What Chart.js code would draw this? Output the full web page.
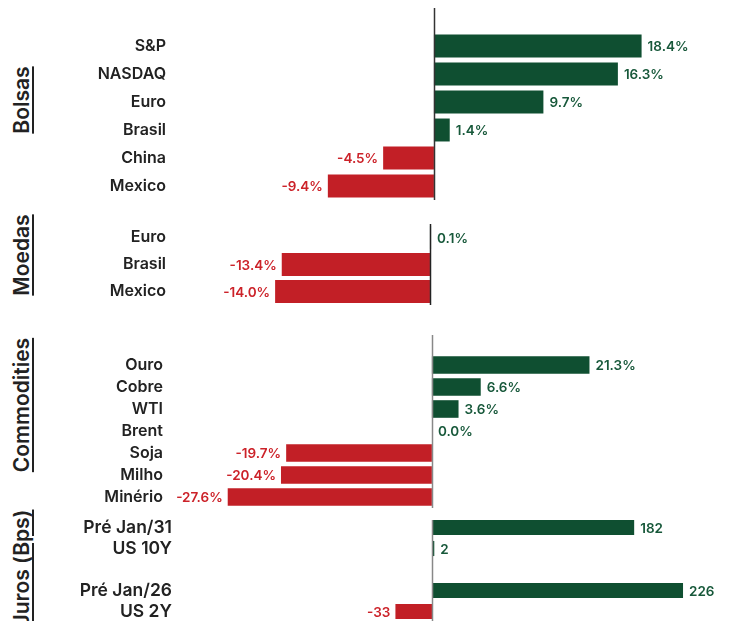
<!DOCTYPE html>
<html>
<head>
<meta charset="utf-8">
<script src="https://cdn.jsdelivr.net/npm/chart.js@4.4.1/dist/chart.umd.min.js"></script>
<style>
  html, body { margin: 0; padding: 0; background: #fff; overflow: hidden; }
  body { width: 733px; height: 621px; position: relative; font-family: 'Inter', sans-serif; }
  canvas { position: absolute; left: 0; }
  .section {
    position: absolute;
    width: 160px;
    height: 24px;
    line-height: 24px;
    text-align: center;
    font-size: 21px;
    font-weight: 600;
    color: #222;
    text-decoration: underline;
    text-decoration-thickness: 1.5px;
    text-underline-offset: 3px;
    transform: rotate(-90deg);
    white-space: nowrap;
  }
</style>
</head>
<body>

<div class="section" style="left:-58px; top:88px;">Bolsas</div>
<div class="section" style="left:-58px; top:243px;">Moedas</div>
<div class="section" style="left:-58px; top:393px;">Commodities</div>
<div class="section" style="left:-58px; top:556px;">Juros (Bps)</div>

<canvas id="bolsas"      width="733" height="196" style="top:4px"></canvas>
<canvas id="moedas"      width="733" height="81"  style="top:224px"></canvas>
<canvas id="commodities" width="733" height="176" style="top:332px"></canvas>
<canvas id="juros"       width="733" height="105" style="top:517px"></canvas>

<script>
// ── Data ───────────────────────────────────────────────────────────────────

const bolsasLabels = ['', 'S&P', 'NASDAQ', 'Euro', 'Brasil', 'China', 'Mexico'];
const bolsasValues = [null, 18.4, 16.3, 9.7, 1.4, -4.5, -9.4];

const moedasLabels = ['Euro', 'Brasil', 'Mexico'];
const moedasValues = [0.1, -13.4, -14.0];

const commodLabels = ['', 'Ouro', 'Cobre', 'WTI', 'Brent', 'Soja', 'Milho', 'Minério'];
const commodValues = [null, 21.3, 6.6, 3.6, 0.0, -19.7, -20.4, -27.6];

const jurosLabels = ['Pré Jan/31', 'US 10Y', '', 'Pré Jan/26', 'US 2Y'];
const jurosValues = [182, 2, null, 226, -33];

// ── Style ──────────────────────────────────────────────────────────────────

const GREEN      = '#0f4f31';
const RED        = '#c21f26';
const GREEN_TEXT = '#17583a';
const RED_TEXT   = '#cc2229';
const FONT       = "'Inter', sans-serif";

const pct = v => v.toFixed(1) + '%';
const bps = v => String(v);

// zero line drawn at the scale's 0
const zeroLine = {
  id: 'zeroLine',
  afterDatasetsDraw(chart, args, opts) {
    const { ctx, chartArea, scales } = chart;
    const x = Math.round(scales.x.getPixelForValue(0)) + 0.5;
    ctx.save();
    ctx.strokeStyle = opts.color;
    ctx.lineWidth = 1.5;
    ctx.beginPath();
    ctx.moveTo(x, chartArea.top + (opts.inset || 0));
    ctx.lineTo(x, chartArea.bottom);
    ctx.stroke();
    ctx.restore();
  }
};

// value labels at bar ends
const valueLabels = {
  id: 'valueLabels',
  afterDatasetsDraw(chart, args, opts) {
    const { ctx } = chart;
    const meta = chart.getDatasetMeta(0);
    const data = chart.data.datasets[0].data;
    ctx.save();
    ctx.font = `600 13.5px ${FONT}`;
    ctx.textBaseline = 'middle';
    meta.data.forEach((bar, i) => {
      const v = data[i];
      if (v === null || v === undefined) return;
      if (v < 0) {
        ctx.fillStyle = RED_TEXT;
        ctx.textAlign = 'right';
        ctx.fillText(opts.format(v), bar.x - 5, bar.y + 1);
      } else {
        ctx.fillStyle = GREEN_TEXT;
        ctx.textAlign = 'left';
        ctx.fillText(opts.format(v), bar.x + 6, bar.y + 1);
      }
    });
    ctx.restore();
  }
};

// ── Chart builder ──────────────────────────────────────────────────────────

const makeChart = (id, labels, values, cfg) => new Chart(document.getElementById(id), {
  type: 'bar',
  data: {
    labels,
    datasets: [{
      data: values,
      backgroundColor: c => c.raw < 0 ? RED : GREEN,
      borderWidth: 0,
      barPercentage: cfg.bar,
      categoryPercentage: 1
    }]
  },
  options: {
    indexAxis: 'y',
    responsive: false,
    animation: false,
    devicePixelRatio: 1,
    layout: { padding: 0 },
    plugins: {
      legend: { display: false },
      tooltip: { enabled: false },
      zeroLine: { color: cfg.lineColor, inset: cfg.inset },
      valueLabels: { format: cfg.format }
    },
    scales: {
      x: { display: false, min: cfg.min, max: cfg.max },
      y: {
        grid: { display: false, drawTicks: false },
        border: { display: false },
        ticks: {
          color: '#222',
          padding: cfg.pad || 14,
          autoSkip: false,
          font: { family: FONT, size: cfg.size || 16, weight: '600' }
        },
        afterFit: s => {
          s.width = 180;
          s.paddingTop = 0;
          s.paddingBottom = 0;
        }
      }
    }
  },
  plugins: [zeroLine, valueLabels]
});

// ── Init ───────────────────────────────────────────────────────────────────

makeChart('bolsas', bolsasLabels, bolsasValues,
  { min: -22.5, max: 26.5, bar: 0.82, lineColor: '#333', inset: 4, format: pct });
makeChart('moedas', moedasLabels, moedasValues,
  { min: -22.6, max: 27.4, bar: 0.85, lineColor: '#222', inset: 0, format: pct });
makeChart('commodities', commodLabels, commodValues,
  { min: -34.05, max: 40.7, bar: 0.8, lineColor: '#888', inset: 3, format: pct, pad: 17 });
makeChart('juros', jurosLabels, jurosValues,
  { min: -227, max: 271, bar: 0.72, lineColor: '#888', inset: 3, format: bps, pad: 8, size: 17.5 });
</script>
</body>
</html>
